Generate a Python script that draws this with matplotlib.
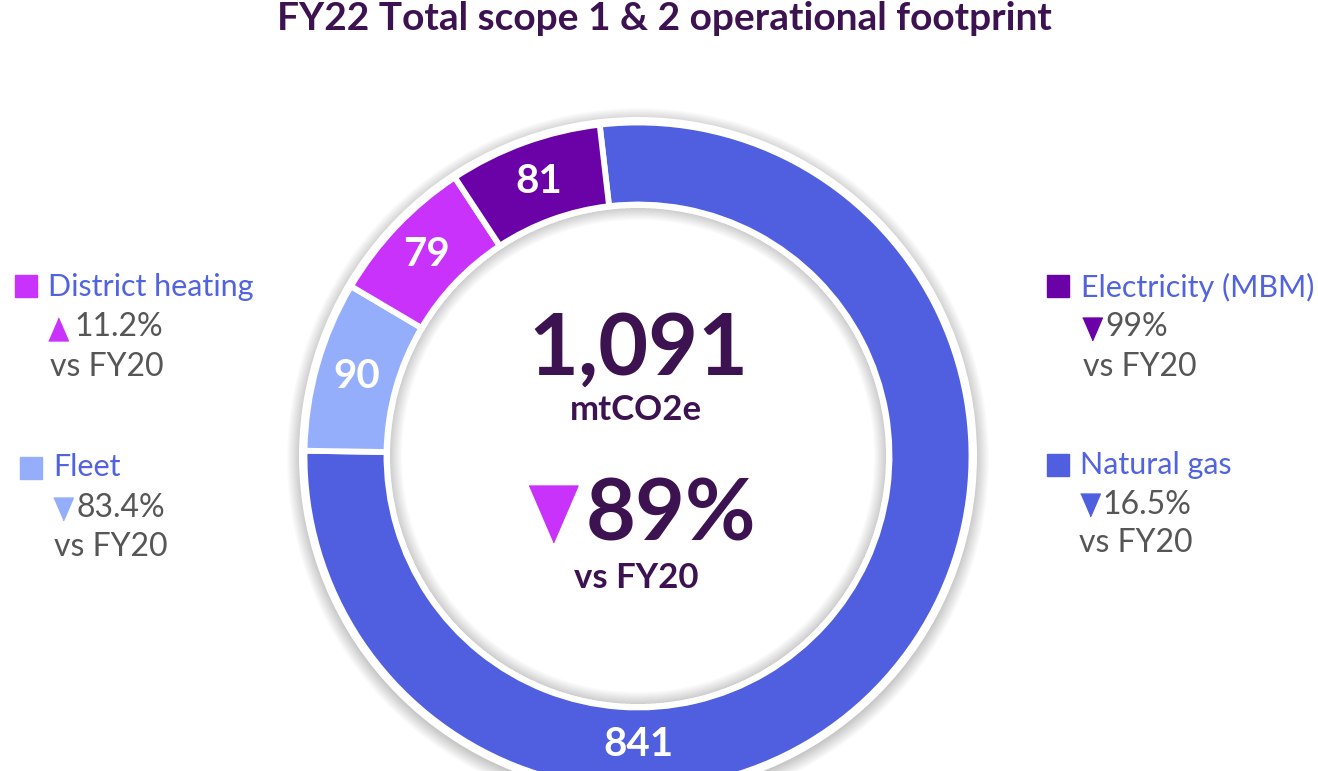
import matplotlib
matplotlib.use('Agg')
import matplotlib.pyplot as plt
from matplotlib.patches import Circle, Wedge

# dados do grafico
categorias = ['Natural gas', 'Fleet', 'District heating', 'Electricity (MBM)']
valores = [841, 90, 79, 81]
cores = ['#4F5FE0', '#94AEFB', '#C832FA', '#6A02A8']
variacao = ['16.5%', '83.4%', '11.2%', '99%']
direcao = ['down', 'down', 'up', 'down']
total = sum(valores)
variacao_total = '89%'
titulo = 'FY22 Total scope 1 & 2 operational footprint'

roxo = '#3D1250'
azul_txt = '#5263E0'
cinza = '#565656'

plt.rcParams['font.family'] = ['Lato', 'DejaVu Sans']

W, H = 1318, 771
fig = plt.figure(figsize=(W / 100, H / 100), dpi=100)
ax = fig.add_axes([0, 0, 1, 1])

# posicao em pixels (y de cima para baixo)
def py(y):
    return H - y

cx, cy = 638, py(456)
R = 333.5
largura = 82

# sombra externa + borda branca
for i in range(14):
    ax.add_patch(Circle((cx, cy - 3), 338 + i, color='black', alpha=0.017, lw=0, zorder=1))
ax.add_patch(Circle((cx, cy), 339, color='white', lw=0, zorder=2))

wedges, textos, autotextos = ax.pie(
    valores, colors=cores, startangle=96.6, counterclock=False,
    center=(cx, cy), radius=R,
    wedgeprops=dict(width=largura, edgecolor='white', linewidth=4.2),
    autopct=lambda p: f'{p * total / 100:.0f}', pctdistance=0.876,
    textprops=dict(color='white', fontsize=29, fontweight='bold'))
for w in wedges:
    w.set_zorder(3)
for t in autotextos:
    t.set_zorder(4)
# o rotulo do gas natural fica embaixo
autotextos[0].set_position((cx, cy - 289))

# sombra interna do furo
for i in range(12):
    ax.add_patch(Wedge((cx, cy), 248, 0, 360, width=1 + i, color='black', alpha=0.014, lw=0, zorder=2))

ax.set_xlim(0, W)
ax.set_ylim(0, H)
ax.set_aspect('auto')
ax.axis('off')

def triangulo(x, y, d, cor, tam):
    if d == 'up':
        verts = [(-0.43, -0.5), (0.43, -0.5), (0, 0.5)]
    else:
        verts = [(-0.43, 0.5), (0.43, 0.5), (0, -0.5)]
    ax.plot([x], [y], marker=verts, markersize=tam, color=cor, lw=0, zorder=5)

# centro
ax.text(638, py(350), f'{total:,}', ha='center', va='center', fontsize=62,
        fontweight='bold', color=roxo, zorder=5)
ax.text(636, py(410), 'mtCO2e', ha='center', va='center', fontsize=25,
        fontweight='bold', color=roxo, zorder=5)
triangulo(553, py(514), 'down', cores[2], 41)
ax.text(671, py(516), variacao_total, ha='center', va='center', fontsize=62,
        fontweight='bold', color=roxo, zorder=5)
ax.text(636, py(578), 'vs FY20', ha='center', va='center', fontsize=25,
        fontweight='bold', color=roxo, zorder=5)

# legenda manual
leg = {
    'District heating': dict(sq=(26, 286), txt=(48, 287), tri=(58, 329), pct=(74, 327), vs=(50, 367)),
    'Fleet': dict(sq=(31, 468), txt=(53, 467), tri=(63, 509), pct=(76, 508), vs=(54, 547)),
    'Electricity (MBM)': dict(sq=(1058, 286), txt=(1081, 287), tri=(1092, 329), pct=(1105, 327), vs=(1083, 367)),
    'Natural gas': dict(sq=(1058, 465), txt=(1080, 465), tri=(1090, 505), pct=(1102, 505), vs=(1079, 543)),
}
for cat, cor, v, d in zip(categorias, cores, variacao, direcao):
    p = leg[cat]
    ax.plot([p['sq'][0]], [py(p['sq'][1])], marker='s', markersize=16.5, color=cor, lw=0)
    ax.text(p['txt'][0], py(p['txt'][1]), cat, ha='left', va='center', fontsize=22, color=azul_txt)
    triangulo(p['tri'][0], py(p['tri'][1]), d, cor, 16.5)
    ax.text(p['pct'][0], py(p['pct'][1]), v, ha='left', va='center', fontsize=23, color=cinza)
    ax.text(p['vs'][0], py(p['vs'][1]), 'vs FY20', ha='left', va='center', fontsize=23, color=cinza)

ax.text(664, py(19), titulo, ha='center', va='center', fontsize=28,
        fontweight='bold', color=roxo)

fig.savefig('out.png', dpi=100)
